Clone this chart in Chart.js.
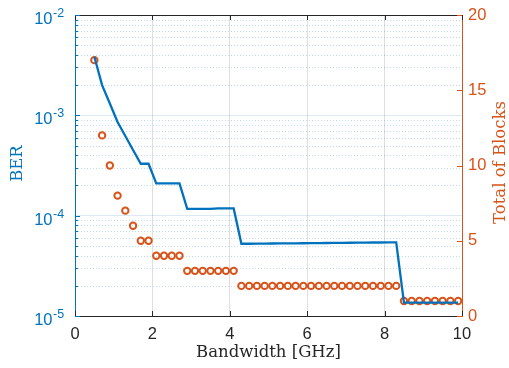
<!DOCTYPE html>
<html lang="en">
<head>
    <meta charset="UTF-8">
    <title>BER and Total of Blocks vs Bandwidth</title>
    <script src="https://cdn.jsdelivr.net/npm/chart.js"></script>
    <style>
        html, body { margin: 0; padding: 0; background: #fff; }
        #wrap { width: 509px; height: 368px; }
    </style>
</head>
<body>
    <div id="wrap"><canvas id="berChart" width="509" height="368"></canvas></div>

    <script>
        // Bandwidth [GHz]
        const bandwidth = [
            0.5, 0.7, 0.9, 1.1, 1.3, 1.5, 1.7, 1.9, 2.1, 2.3, 2.5, 2.7,
            2.9, 3.1, 3.3, 3.5, 3.7, 3.9, 4.1,
            4.3, 4.5, 4.7, 4.9, 5.1, 5.3, 5.5, 5.7, 5.9, 6.1, 6.3, 6.5, 6.7, 6.9, 7.1, 7.3, 7.5, 7.7, 7.9, 8.1, 8.3,
            8.5, 8.7, 8.9, 9.1, 9.3, 9.5, 9.7, 9.9
        ];
        // BER (left axis, log)
        const ber = [
            3.83e-3, 2.0e-3, 1.31e-3, 8.57e-4, 6.22e-4, 4.52e-4, 3.29e-4, 3.29e-4, 2.1e-4, 2.1e-4, 2.1e-4, 2.1e-4,
            1.17e-4, 1.17e-4, 1.17e-4, 1.17e-4, 1.18e-4, 1.18e-4, 1.18e-4,
            5.25e-5, 5.25e-5, 5.26e-5, 5.27e-5, 5.28e-5, 5.29e-5, 5.3e-5, 5.3e-5, 5.31e-5, 5.32e-5, 5.33e-5, 5.34e-5, 5.35e-5, 5.36e-5, 5.37e-5, 5.38e-5, 5.39e-5, 5.4e-5, 5.4e-5, 5.41e-5, 5.42e-5,
            1.36e-5, 1.36e-5, 1.36e-5, 1.36e-5, 1.36e-5, 1.36e-5, 1.36e-5, 1.36e-5
        ];
        // Total of Blocks (right axis)
        const blocks = [
            17, 12, 10, 8, 7, 6, 5, 5, 4, 4, 4, 4,
            3, 3, 3, 3, 3, 3, 3,
            2, 2, 2, 2, 2, 2, 2, 2, 2, 2, 2, 2, 2, 2, 2, 2, 2, 2, 2, 2, 2,
            1, 1, 1, 1, 1, 1, 1, 1
        ];

        const xTicks = [0, 2, 4, 6, 8, 10];
        const berDecades = [-5, -4, -3, -2];
        const blockTicks = [0, 5, 10, 15, 20];

        const BLUE = '#0072BD';
        const ORANGE = '#D95319';
        const DARK = '#262626';
        const TICK_FONT = '16.5px "Liberation Sans", Arial, sans-serif';
        const LABEL_FONT = '16.5px "DejaVu Serif", serif';

        // draws MATLAB style axes: inward ticks, 10^n labels, titles, box
        const matlabAxes = {
            id: 'matlabAxes',
            beforeDatasetsDraw(chart) {
                const { ctx, chartArea: a, scales } = chart;
                const y = scales.y;
                ctx.save();
                ctx.strokeStyle = 'rgba(0, 114, 189, 0.25)';
                ctx.lineWidth = 1;
                ctx.setLineDash([1, 2]);
                for (let d = -5; d < -2; d++) {
                    for (let m = 2; m <= 9; m++) {
                        const py = Math.round(y.getPixelForValue(m * Math.pow(10, d))) + 0.5;
                        ctx.beginPath();
                        ctx.moveTo(a.left, py);
                        ctx.lineTo(a.right, py);
                        ctx.stroke();
                    }
                }
                ctx.restore();
            },
            afterDraw(chart) {
                const { ctx, chartArea: a, scales } = chart;
                const x = scales.x, y = scales.y, y2 = scales.y2;
                ctx.save();
                ctx.lineWidth = 1;

                // top box line
                ctx.strokeStyle = DARK;
                ctx.beginPath();
                ctx.moveTo(a.left, a.top + 0.5);
                ctx.lineTo(a.right, a.top + 0.5);
                ctx.stroke();

                // x ticks (bottom and top)
                xTicks.forEach(v => {
                    const px = Math.round(x.getPixelForValue(v)) + 0.5;
                    ctx.beginPath();
                    ctx.moveTo(px, a.bottom);
                    ctx.lineTo(px, a.bottom - 5);
                    ctx.moveTo(px, a.top);
                    ctx.lineTo(px, a.top + 5);
                    ctx.stroke();
                });

                // left ticks
                ctx.strokeStyle = BLUE;
                for (let d = -5; d <= -2; d++) {
                    const py = Math.round(y.getPixelForValue(Math.pow(10, d))) + 0.5;
                    ctx.beginPath();
                    ctx.moveTo(a.left, py);
                    ctx.lineTo(a.left + 5, py);
                    ctx.stroke();
                    if (d === -2) continue;
                    for (let m = 2; m <= 9; m++) {
                        const pm = Math.round(y.getPixelForValue(m * Math.pow(10, d))) + 0.5;
                        ctx.beginPath();
                        ctx.moveTo(a.left, pm);
                        ctx.lineTo(a.left + 3, pm);
                        ctx.stroke();
                    }
                }

                // right ticks
                ctx.strokeStyle = ORANGE;
                blockTicks.forEach(v => {
                    const py = Math.round(y2.getPixelForValue(v)) + 0.5;
                    ctx.beginPath();
                    ctx.moveTo(a.right, py);
                    ctx.lineTo(a.right - 5, py);
                    ctx.stroke();
                });

                // x tick labels
                ctx.font = TICK_FONT;
                ctx.fillStyle = DARK;
                ctx.textAlign = 'center';
                ctx.textBaseline = 'middle';
                xTicks.forEach(v => {
                    ctx.fillText(String(v), x.getPixelForValue(v), a.bottom + 18);
                });

                // left tick labels 10^n
                ctx.fillStyle = BLUE;
                berDecades.forEach(d => {
                    const py = y.getPixelForValue(Math.pow(10, d));
                    ctx.font = TICK_FONT;
                    ctx.textAlign = 'right';
                    ctx.fillText('10', 52.5, py + 4.5);
                    ctx.font = '12.5px "Liberation Sans", Arial, sans-serif';
                    ctx.textAlign = 'left';
                    ctx.fillText('-' + Math.abs(d), 53, py - 1.5);
                });

                // right tick labels
                ctx.font = TICK_FONT;
                ctx.fillStyle = ORANGE;
                ctx.textAlign = 'left';
                blockTicks.forEach(v => {
                    ctx.fillText(String(v), 468, y2.getPixelForValue(v));
                });

                // axis titles
                ctx.font = LABEL_FONT;
                ctx.textAlign = 'center';
                ctx.textBaseline = 'alphabetic';
                ctx.fillStyle = DARK;
                ctx.fillText('Bandwidth [GHz]', (a.left + a.right) / 2, 356.5);

                ctx.textBaseline = 'middle';
                ctx.fillStyle = BLUE;
                ctx.translate(18, (a.top + a.bottom) / 2 - 2);
                ctx.rotate(-Math.PI / 2);
                ctx.fillText('BER', 0, 0);
                ctx.setTransform(1, 0, 0, 1, 0, 0);

                ctx.fillStyle = ORANGE;
                ctx.translate(501, (a.top + a.bottom) / 2 - 3);
                ctx.rotate(-Math.PI / 2);
                ctx.fillText('Total of Blocks', 0, 0);
                ctx.restore();
            }
        };

        const chartCtx = document.getElementById('berChart').getContext('2d');

        const berChart = new Chart(chartCtx, {
            type: 'line',
            data: {
                datasets: [{
                    label: 'BER',
                    yAxisID: 'y',
                    data: bandwidth.map((b, i) => ({ x: b, y: ber[i] })),
                    borderColor: BLUE,
                    borderWidth: 2.3,
                    pointRadius: 0,
                    fill: false,
                    tension: 0
                }, {
                    label: 'Total of Blocks',
                    yAxisID: 'y2',
                    data: bandwidth.map((b, i) => ({ x: b, y: blocks[i] })),
                    showLine: false,
                    borderColor: ORANGE,
                    backgroundColor: 'rgba(0,0,0,0)',
                    pointStyle: 'circle',
                    pointRadius: 3.2,
                    pointBorderWidth: 2,
                    pointBorderColor: ORANGE,
                    pointBackgroundColor: 'rgba(0,0,0,0)'
                }]
            },
            options: {
                responsive: false,
                animation: false,
                events: [],
                layout: {
                    padding: { left: 75, right: 47, top: 15, bottom: 52 }
                },
                plugins: {
                    legend: { display: false },
                    tooltip: { enabled: false }
                },
                scales: {
                    x: {
                        type: 'linear',
                        min: 0,
                        max: 10,
                        afterBuildTicks: scale => {
                            scale.ticks = xTicks.map(v => ({ value: v }));
                        },
                        ticks: { display: false },
                        grid: {
                            color: 'rgba(38, 38, 38, 0.15)',
                            drawTicks: false
                        },
                        border: { color: DARK, width: 1 }
                    },
                    y: {
                        type: 'logarithmic',
                        position: 'left',
                        min: 1e-5,
                        max: 1e-2,
                        afterBuildTicks: scale => {
                            scale.ticks = berDecades.map(d => ({ value: Math.pow(10, d) }));
                        },
                        ticks: { display: false },
                        grid: {
                            color: 'rgba(0, 114, 189, 0.15)',
                            drawTicks: false
                        },
                        border: { color: BLUE, width: 1 }
                    },
                    y2: {
                        type: 'linear',
                        position: 'right',
                        min: 0,
                        max: 20,
                        ticks: { display: false },
                        grid: { drawOnChartArea: false, drawTicks: false },
                        border: { color: ORANGE, width: 1 }
                    }
                }
            },
            plugins: [matlabAxes]
        });
    </script>
</body>
</html>
